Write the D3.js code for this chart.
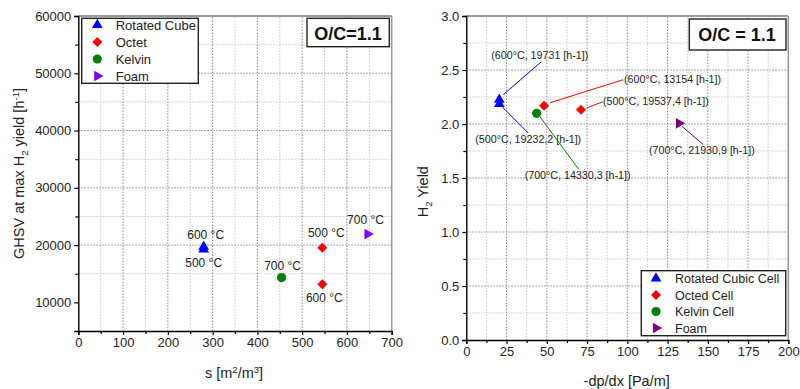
<!DOCTYPE html>
<html>
<head>
<meta charset="utf-8">
<script src="https://cdn.jsdelivr.net/npm/d3@7"></script>
<style>
  body { margin: 0; background: #fff; }
  svg { font-family: "Liberation Sans", Arial, sans-serif; }
</style>
</head>
<body>
<svg id="chart" width="800" height="389"></svg>
<script>
// ---- data: left panel (GHSV vs specific surface) ----
const leftSeries = ["Rotated Cube", "Octet", "Kelvin", "Foam"];
const leftColors = ["#0000ff", "#ff0000", "#008000", "#8000ff"];
const leftS = [280, 280, 545, 545, 454, 646];
const leftGHSV = [19731, 19232.2, 19537.4, 13154, 14330.3, 21930.9];
const leftGroup = [0, 0, 1, 1, 2, 3];
const leftTemps = ["600 °C", "500 °C", "500 °C", "600 °C", "700 °C", "700 °C"];
const leftXTicks = [0, 100, 200, 300, 400, 500, 600, 700];
const leftYTicks = [10000, 20000, 30000, 40000, 50000, 60000];

// ---- data: right panel (H2 yield vs pressure drop) ----
const rightSeries = ["Rotated Cubic Cell", "Octed Cell", "Kelvin Cell", "Foam"];
const rightColors = ["#0000ff", "#ff0000", "#008000", "#800080"];
const rightDpdx = [20.5, 20.5, 48.3, 71.2, 43.7, 132.1];
const rightYield = [2.225, 2.185, 2.169, 2.132, 2.099, 2.006];
const rightGroup = [0, 0, 1, 1, 2, 3];
const rightNotes = ["(600°C, 19731 [h-1])", "(500°C, 19232,2 [h-1])", "(600°C, 13154 [h-1])",
                    "(500°C, 19537,4 [h-1])", "(700°C, 14330,3 [h-1])", "(700°C, 21930,9 [h-1])"];
const rightXTicks = [0, 25, 50, 75, 100, 125, 150, 175, 200];
const rightYTicks = [0.0, 0.5, 1.0, 1.5, 2.0, 2.5, 3.0];

// label placement (pixel offsets from the marker)
const leftLabelOff = [[2, -8], [0, 18], [4, -11], [2, 18], [1, -8], [-2, -10]];
// [line start dx,dy, line end dx,dy, text dx, text baseline dy]
const rightNoteOff = [
  [4, -5, 42, -38, -8, -41],
  [3, 3, 29, 29, -24, 39],
  [6, -3, 79, -26, 80, -23],
  [6, -2, 22, -8, 22, -5],
  [3, 3, 42, 56, -12, 66],
  [3, 3, 24, 21, -30, 31]
];

const svg = d3.select("#chart");
const shapes = [
  { type: d3.symbolTriangle, size: 50, rot: 0 },
  { type: d3.symbolSquare, size: 50, rot: 45 },
  { type: d3.symbolCircle, size: 66, rot: 0 },
  { type: d3.symbolTriangle, size: 50, rot: 90 }
];
function marker(g, x, y, k, color) {
  const s = shapes[k];
  g.append("path")
    .attr("d", d3.symbol().type(s.type).size(s.size)())
    .attr("transform", `translate(${x},${y}) rotate(${s.rot})`)
    .attr("fill", color);
}

function panel(opt) {
  const g = svg.append("g");
  const x = d3.scaleLinear().domain(opt.xDomain).range(opt.xRange);
  const y = d3.scaleLinear().domain(opt.yDomain).range(opt.yRange);
  const [x0, x1] = opt.xRange, [y0, y1] = opt.yRange;

  // grid
  const grid = g.append("g");
  opt.xMinor.forEach(v => grid.append("line").attr("x1", x(v)).attr("x2", x(v))
    .attr("y1", y0).attr("y2", y1).attr("stroke", "#c8c8c8").attr("stroke-dasharray", "1.5,1.5"));
  opt.yMinor.forEach(v => grid.append("line").attr("y1", y(v)).attr("y2", y(v))
    .attr("x1", x0).attr("x2", x1).attr("stroke", "#c8c8c8").attr("stroke-dasharray", "1.5,1.5"));
  opt.xTicks.slice(1, -1).forEach(v => grid.append("line").attr("x1", x(v)).attr("x2", x(v))
    .attr("y1", y0).attr("y2", y1).attr("stroke", "#8a8a8a").attr("stroke-dasharray", "1.5,1.5"));
  opt.yTicks.slice(1, -1).forEach(v => grid.append("line").attr("y1", y(v)).attr("y2", y(v))
    .attr("x1", x0).attr("x2", x1).attr("stroke", "#8a8a8a").attr("stroke-dasharray", "1.5,1.5"));

  // frame top/right
  g.append("line").attr("x1", x0).attr("x2", x1).attr("y1", y1).attr("y2", y1)
    .attr("stroke", "#333").attr("stroke-width", 1.2);
  g.append("line").attr("x1", x1).attr("x2", x1).attr("y1", y1).attr("y2", y0)
    .attr("stroke", "#999").attr("stroke-width", 1.6);

  // axes
  g.append("g").attr("transform", `translate(0,${y0})`)
    .call(d3.axisBottom(x).tickValues(opt.xTicks).tickSize(4).tickPadding(3).tickFormat(opt.xFmt));
  g.append("g").attr("transform", `translate(0,${y0})`)
    .call(d3.axisBottom(x).tickValues(opt.xMinor).tickSize(3).tickFormat(""))
    .select(".domain").remove();
  g.append("g").attr("transform", `translate(${x0},0)`)
    .call(d3.axisLeft(y).tickValues(opt.yTicks).tickSize(4).tickPadding(3).tickFormat(opt.yFmt));
  g.append("g").attr("transform", `translate(${x0},0)`)
    .call(d3.axisLeft(y).tickValues(opt.yMinor).tickSize(3).tickFormat(""))
    .select(".domain").remove();
  g.selectAll(".domain").attr("stroke", "#000").attr("stroke-width", 1.4);
  g.selectAll(".tick line").attr("stroke", "#000").attr("stroke-width", 1.2);
  g.selectAll(".tick text").attr("font-size", 13).attr("fill", "#222")
    .attr("font-family", "Liberation Sans, Arial, sans-serif");
  return { g, x, y };
}

// ---------- left panel ----------
const L = panel({
  xDomain: [0, 700], xRange: [78.3, 391.7],
  yDomain: [5000, 60000], yRange: [331, 16],
  xTicks: leftXTicks, yTicks: leftYTicks,
  xMinor: d3.range(50, 700, 100), yMinor: d3.range(15000, 60000, 10000),
  xFmt: d3.format("d"), yFmt: d3.format("d")
});

leftS.forEach((s, i) => {
  const px = L.x(s), py = L.y(leftGHSV[i]);
  marker(L.g, px, py, leftGroup[i], leftColors[leftGroup[i]]);
  L.g.append("text").attr("x", px + leftLabelOff[i][0]).attr("y", py + leftLabelOff[i][1])
    .attr("text-anchor", "middle").attr("font-size", 12).attr("fill", "#222").text(leftTemps[i]);
});

// left legend
L.g.append("rect").attr("x", 81.7).attr("y", 18.3).attr("width", 116.6).attr("height", 65)
  .attr("fill", "#fff").attr("stroke", "#222").attr("stroke-width", 1.4);
leftSeries.forEach((name, i) => {
  const cy = 25 + i * 17;
  marker(L.g, 97.3, cy, i, leftColors[i]);
  L.g.append("text").attr("x", 115.7).attr("y", cy + 4.5).attr("font-size", 13)
    .attr("fill", "#222").text(name);
});
// O/C box
L.g.append("rect").attr("x", 307).attr("y", 18.3).attr("width", 82.3).attr("height", 28.4)
  .attr("fill", "#fff").attr("stroke", "#222").attr("stroke-width", 1.4);
L.g.append("text").attr("x", 348).attr("y", 39.5).attr("text-anchor", "middle")
  .attr("font-size", 18).attr("font-weight", "bold").attr("fill", "#111").text("O/C=1.1");

// titles
const lx = L.g.append("text").attr("x", 234).attr("y", 378).attr("text-anchor", "middle")
  .attr("font-size", 14.5).attr("fill", "#222");
lx.append("tspan").text("s [m");
lx.append("tspan").attr("dy", -5).attr("font-size", 9.5).text("2");
lx.append("tspan").attr("dy", 5).text("/m");
lx.append("tspan").attr("dy", -5).attr("font-size", 9.5).text("3");
lx.append("tspan").attr("dy", 5).text("]");

const ly = L.g.append("text").attr("transform", "translate(24,173.5) rotate(-90)")
  .attr("text-anchor", "middle").attr("font-size", 14.5).attr("fill", "#222");
ly.append("tspan").text("GHSV at max H");
ly.append("tspan").attr("dy", 4).attr("font-size", 9.5).text("2");
ly.append("tspan").attr("dy", -4).text(" yield [h");
ly.append("tspan").attr("dy", -5).attr("font-size", 9.5).text("-1");
ly.append("tspan").attr("dy", 5).text("]");

// ---------- right panel ----------
const R = panel({
  xDomain: [0, 200], xRange: [466.3, 788.3],
  yDomain: [0, 3], yRange: [340, 16],
  xTicks: rightXTicks, yTicks: rightYTicks,
  xMinor: d3.range(12.5, 200, 25), yMinor: d3.range(0.25, 3, 0.5),
  xFmt: d3.format("d"), yFmt: d3.format(".1f")
});

rightDpdx.forEach((v, i) => {
  const px = R.x(v), py = R.y(rightYield[i]);
  const o = rightNoteOff[i];
  const c = rightColors[rightGroup[i]];
  R.g.append("line").attr("x1", px + o[0]).attr("y1", py + o[1])
    .attr("x2", px + o[2]).attr("y2", py + o[3]).attr("stroke", c).attr("stroke-width", 1);
});
rightDpdx.forEach((v, i) => {
  const px = R.x(v), py = R.y(rightYield[i]);
  marker(R.g, px, py, rightGroup[i], rightColors[rightGroup[i]]);
});
rightDpdx.forEach((v, i) => {
  const px = R.x(v), py = R.y(rightYield[i]);
  const o = rightNoteOff[i];
  R.g.append("text").attr("x", px + o[4]).attr("y", py + o[5])
    .attr("font-size", 10.7).attr("fill", "#222").text(rightNotes[i]);
});

// right legend
R.g.append("rect").attr("x", 641.3).attr("y", 270.7).attr("width", 144.4).attr("height", 65)
  .attr("fill", "#fff").attr("stroke", "#222").attr("stroke-width", 1.4);
rightSeries.forEach((name, i) => {
  const cy = 278.5 + i * 16.5;
  marker(R.g, 656, cy, i, rightColors[i]);
  R.g.append("text").attr("x", 675).attr("y", cy + 4.5).attr("font-size", 12.5)
    .attr("fill", "#222").text(name);
});
// O/C box
R.g.append("rect").attr("x", 689.3).attr("y", 19).attr("width", 96.7).attr("height", 31)
  .attr("fill", "#fff").attr("stroke", "#222").attr("stroke-width", 1.4);
R.g.append("text").attr("x", 737).attr("y", 40.7).attr("text-anchor", "middle")
  .attr("font-size", 18).attr("font-weight", "bold").attr("fill", "#111").text("O/C = 1.1");

// titles
R.g.append("text").attr("x", 626.7).attr("y", 386).attr("text-anchor", "middle")
  .attr("font-size", 14.5).attr("fill", "#222").text("-dp/dx [Pa/m]");
const ry = R.g.append("text").attr("transform", "translate(428,191.7) rotate(-90)")
  .attr("text-anchor", "middle").attr("font-size", 14.5).attr("fill", "#222");
ry.append("tspan").text("H");
ry.append("tspan").attr("dy", 4).attr("font-size", 9.5).text("2");
ry.append("tspan").attr("dy", -4).text(" Yield");
</script>
</body>
</html>
